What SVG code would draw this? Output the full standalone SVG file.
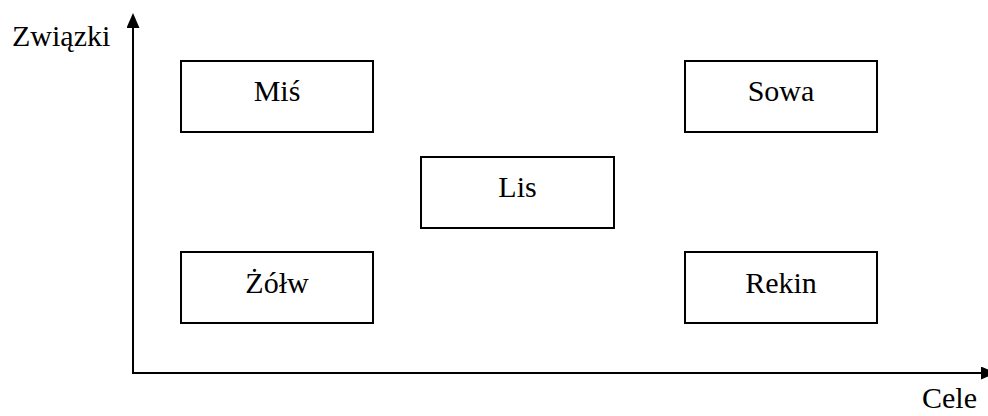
<svg xmlns="http://www.w3.org/2000/svg" width="988" height="416" viewBox="0 0 988 416">
  <style>
    .box { fill: #fff; stroke: #000; stroke-width: 2; }
    .lbl { font-family: 'Times New Roman', 'Liberation Serif', 'DejaVu Serif', serif; font-size: 30px; fill: #000; }
    .ax { stroke: #000; stroke-width: 2; fill: none; }
  </style>
  <defs>
    <marker id="arrow" viewBox="0 0 15 13" refX="0" refY="6.5" markerWidth="15" markerHeight="13" markerUnits="userSpaceOnUse" orient="auto">
      <path d="M0,0 L15,6.5 L0,13 Z" fill="#000"/>
    </marker>
  </defs>

  <g id="axes">
    <line class="ax" x1="133" y1="374" x2="133" y2="28" marker-end="url(#arrow)"/>
    <line class="ax" x1="132" y1="373" x2="981" y2="373" marker-end="url(#arrow)"/>
    <text class="lbl" x="12" y="46">Związki</text>
    <text class="lbl" x="922" y="408">Cele</text>
  </g>

  <g id="mis">
    <rect class="box" x="181" y="61" width="192" height="71"/>
    <text class="lbl" x="277" y="101" text-anchor="middle">Miś</text>
  </g>
  <g id="sowa">
    <rect class="box" x="685" y="61" width="192" height="71"/>
    <text class="lbl" x="781" y="101" text-anchor="middle">Sowa</text>
  </g>
  <g id="lis">
    <rect class="box" x="421" y="157" width="193" height="71"/>
    <text class="lbl" x="517.5" y="197" text-anchor="middle">Lis</text>
  </g>
  <g id="zolw">
    <rect class="box" x="181" y="252" width="192" height="71"/>
    <text class="lbl" x="277" y="293" text-anchor="middle">Żółw</text>
  </g>
  <g id="rekin">
    <rect class="box" x="685" y="252" width="192" height="71"/>
    <text class="lbl" x="781" y="293" text-anchor="middle">Rekin</text>
  </g>
</svg>
